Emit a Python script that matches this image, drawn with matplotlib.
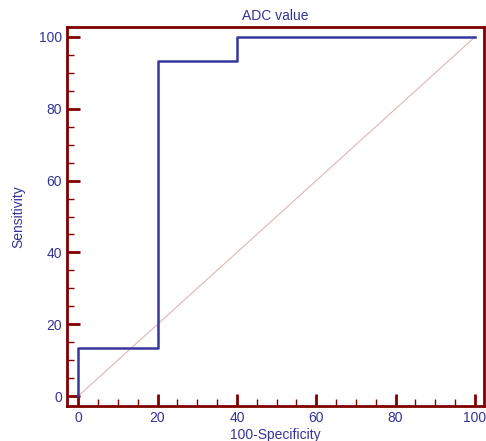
import numpy as np
import matplotlib
matplotlib.use("Agg")
import matplotlib.pyplot as plt
from matplotlib.ticker import MultipleLocator

plt.rcParams.update({
    "font.family": "Liberation Sans",
    "font.size": 10
})

# ROC curve points (100-Specificity, Sensitivity)
fpr = [0, 0, 20, 20, 40, 40, 100]
tpr = [0, 13.3, 13.3, 93.3, 93.3, 100, 100]
ref_line = [0, 100]
xticks = [0, 20, 40, 60, 80, 100]
yticks = [0, 20, 40, 60, 80, 100]

frame_color = '#800000'
text_color = '#333399'
roc_color = '#36369c'
diag_color = '#e2b4b4'

fig = plt.figure(figsize=(4.86, 4.41), dpi=100)
ax = fig.add_axes([0.138, 0.079, 0.858, 0.860])

ax.plot(ref_line, ref_line, color=diag_color, lw=0.8)
ax.plot(fpr, tpr, color=roc_color, lw=1.8)

ax.set_xlim(-2.8, 102.3)
ax.set_ylim(-2.8, 102.8)
ax.set_xticks(xticks)
ax.set_yticks(yticks)
ax.xaxis.set_minor_locator(MultipleLocator(5))
ax.yaxis.set_minor_locator(MultipleLocator(5))

for s in ax.spines.values():
    s.set_color(frame_color)
    s.set_linewidth(2)

ax.tick_params(which='both', top=False, right=False)
ax.tick_params(which='major', direction='in', length=9, width=2,
               color=frame_color, labelcolor=text_color, labelsize=10)
ax.tick_params(which='minor', direction='in', length=5, width=1,
               color=frame_color)

ax.set_title("ADC value", color=text_color, fontsize=10, pad=5)
ax.set_xlabel("100-Specificity", color=text_color, fontsize=10, labelpad=2)
ax.set_ylabel("Sensitivity", color=text_color, fontsize=10, labelpad=10)

fig.savefig("out.png", dpi=100)
